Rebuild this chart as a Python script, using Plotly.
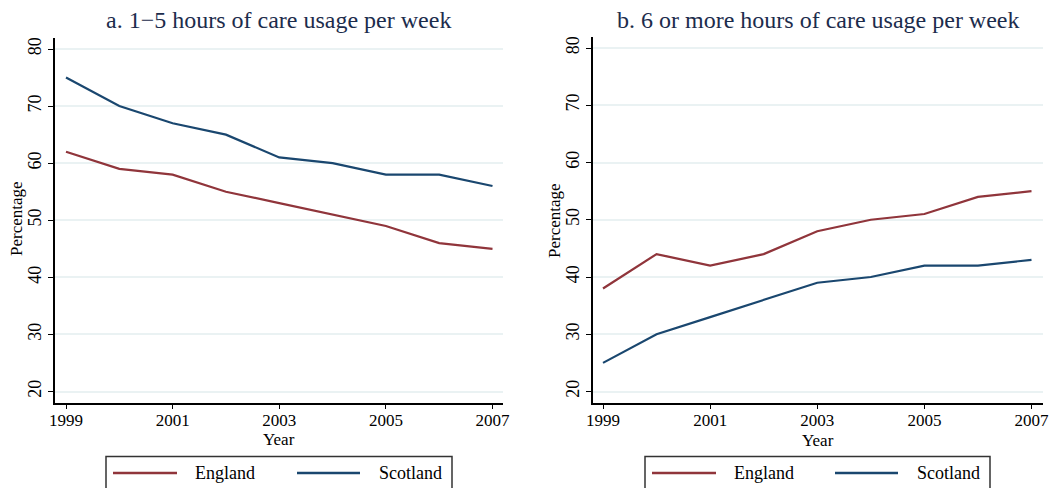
import plotly.graph_objects as go

# Survey years and share of users (%) by weekly hours of care
years = [1999, 2000, 2001, 2002, 2003, 2004, 2005, 2006, 2007]
england_1to5 = [62, 59, 58, 55, 53, 51, 49, 46, 45]
scotland_1to5 = [75, 70, 67, 65, 61, 60, 58, 58, 56]
england_6plus = [38, 44, 42, 44, 48, 50, 51, 54, 55]
scotland_6plus = [25, 30, 33, 36, 39, 40, 42, 42, 43]

panel_titles = ["a. 1\u22125 hours of care usage per week",
                "b. 6 or more hours of care usage per week"]
series_names = ["England", "Scotland"]
x_ticks = [1999, 2001, 2003, 2005, 2007]
y_ticks = [20, 30, 40, 50, 60, 70, 80]

W, H = 1049, 488
MAROON = "#90353b"
NAVY = "#1a476f"
GRID = "#eaf2f3"
TITLE_C = "#1c2c4c"
FONT = "Liberation Serif, Times New Roman, serif"


def px(x):
    return x / W


def py(y):
    return 1 - y / H


fig = go.Figure()

panels = [
    dict(data=(england_1to5, scotland_1to5), xa="x", ya="y",
         left=55, right=503, top=38, bottom=402.5,
         x1999=66, x2007=492.5, y80=49, y20=391.5,
         title_x=278, xt=(279, 439), yt=(16, 219)),
    dict(data=(england_6plus, scotland_6plus), xa="x2", ya="y2",
         left=592.5, right=1043, top=37, bottom=402.5,
         x1999=603, x2007=1031.5, y80=48, y20=391.5,
         title_x=818, xt=(818, 440), yt=(555, 221)),
]

for i, p in enumerate(panels):
    for vals, name, col in zip(p["data"], series_names, [MAROON, NAVY]):
        fig.add_trace(go.Scatter(x=years, y=vals, mode="lines", name=name,
                                 line=dict(color=col, width=2.2),
                                 showlegend=False, xaxis=p["xa"], yaxis=p["ya"]))
    xs = (p["x2007"] - p["x1999"]) / 8.0
    ys = (p["y20"] - p["y80"]) / 60.0
    xr = [1999 - (p["x1999"] - p["left"]) / xs, 2007 + (p["right"] - p["x2007"]) / xs]
    yr = [20 - (p["bottom"] - p["y20"]) / ys, 80 + (p["y80"] - p["top"]) / ys]
    suffix = "" if i == 0 else "2"
    fig.layout["xaxis" + suffix] = dict(
        domain=[px(p["left"]), px(p["right"])], range=xr, anchor="y" + suffix,
        automargin=False, ticklabeloverflow="allow", ticklabelstandoff=-4,
        tickvals=x_ticks, ticks="outside", ticklen=5, tickwidth=1.3, tickcolor="black",
        showline=True, linecolor="black", linewidth=1.5, showgrid=False, zeroline=False,
        tickfont=dict(family=FONT, size=17, color="black"),
    )
    fig.layout["yaxis" + suffix] = dict(
        domain=[py(p["bottom"]), py(p["top"])], range=yr, anchor="x" + suffix,
        automargin=False, ticklabeloverflow="allow",
        tickvals=y_ticks, ticks="outside", ticklen=5, tickwidth=1.3, tickcolor="black",
        tickangle=-90,
        showline=True, linecolor="black", linewidth=1.5,
        showgrid=True, gridcolor=GRID, gridwidth=1.6, zeroline=False,
        tickfont=dict(family=FONT, size=18, color="black"),
    )
    # panel heading
    fig.add_annotation(x=px(p["title_x"]), y=py(20), xref="paper", yref="paper",
                       text=panel_titles[i], showarrow=False, xanchor="center", yanchor="middle",
                       font=dict(family=FONT, size=24, color=TITLE_C))
    # axis titles
    fig.add_annotation(x=px(p["xt"][0]), y=py(p["xt"][1]), xref="paper", yref="paper",
                       text="Year", showarrow=False, xanchor="center", yanchor="middle",
                       font=dict(family=FONT, size=17, color="black"))
    fig.add_annotation(x=px(p["yt"][0]), y=py(p["yt"][1]), xref="paper", yref="paper",
                       text="Percentage", showarrow=False, textangle=-90,
                       xanchor="center", yanchor="middle",
                       font=dict(family=FONT, size=17, color="black"))

# per-panel legend boxes
legends = [
    dict(box=(106, 452), samples=[(113, 177, 193), (297, 360, 377)]),
    dict(box=(645, 990), samples=[(652, 716, 732), (835, 898, 915)]),
]
for lg in legends:
    x0, x1 = lg["box"]
    fig.add_shape(type="rect", xref="paper", yref="paper",
                  x0=px(x0), x1=px(x1), y0=py(500), y1=py(456.5),
                  line=dict(color="#333333", width=1.5), fillcolor="white")
    for (sx0, sx1, tx), name, col in zip(lg["samples"], series_names, [MAROON, NAVY]):
        fig.add_shape(type="line", xref="paper", yref="paper",
                      x0=px(sx0), x1=px(sx1), y0=py(473), y1=py(473),
                      line=dict(color=col, width=2.5))
        fig.add_annotation(x=px(tx), y=py(473), xref="paper", yref="paper",
                           text=name, showarrow=False, xanchor="left", yanchor="middle",
                           font=dict(family=FONT, size=18, color="black"))

fig.update_layout(
    width=W, height=H, margin=dict(l=0, r=0, t=0, b=0),
    paper_bgcolor="white", plot_bgcolor="white",
)

fig.write_html("out.html")
